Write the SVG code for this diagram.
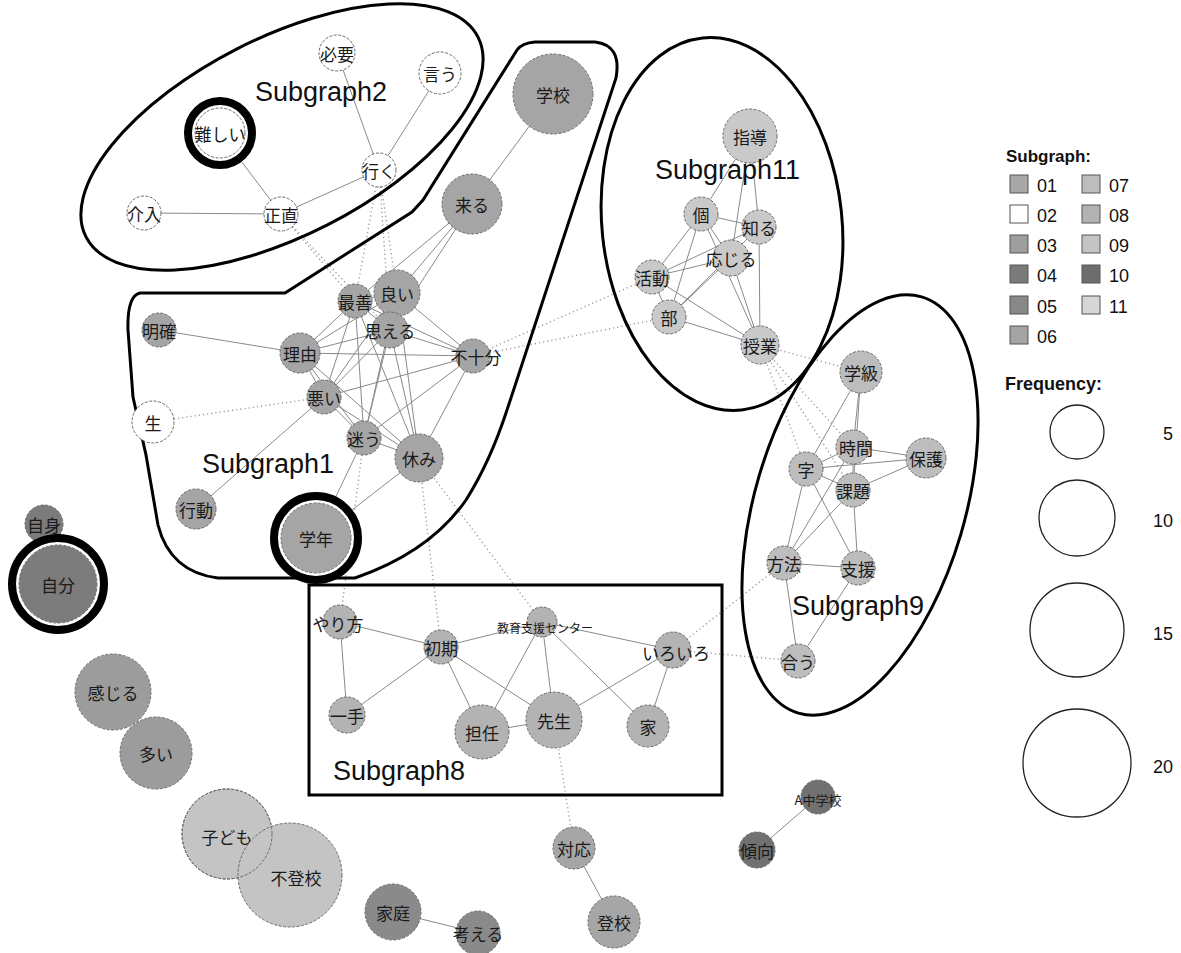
<svg xmlns="http://www.w3.org/2000/svg" width="1181" height="953" viewBox="0 0 1181 953">
<style>
.e{stroke:#8a8a8a;stroke-width:1;fill:none}
.d{stroke:#9a9a9a;stroke-width:1.4;stroke-dasharray:1.2 3;fill:none}
.n circle{stroke:#6a6a6a;stroke-width:1;stroke-dasharray:3 1.5}
.n text{font-family:"Noto Sans CJK JP","Noto Sans CJK SC",sans-serif;font-size:17px;text-anchor:middle;dominant-baseline:central;fill:#1a1a1a}
.w{fill:#ffffff}.s1{fill:#a5a5a5}.s11{fill:#c9c9c9}.s9{fill:#bdbdbd}.s8{fill:#b3b3b3}
.s4{fill:#7c7c7c}.s3{fill:#9c9c9c}.s7{fill:#c4c4c4}.s5{fill:#8a8a8a}.s6{fill:#a6a6a6}.s10{fill:#717171}
.n circle.ring{fill:#fff;stroke:#000;stroke-width:8;stroke-dasharray:none}
.hull{fill:none;stroke:#000;stroke-width:3}
.sg{font-family:"Liberation Sans",Arial,sans-serif;font-size:27px;fill:#111}
.lg{font-family:"Liberation Sans",Arial,sans-serif;font-size:18px;fill:#111}
.lgb{font-family:"Liberation Sans",Arial,sans-serif;font-size:17px;font-weight:bold;fill:#111}
.sq{stroke:#555;stroke-width:1}
.fc{fill:none;stroke:#222;stroke-width:1.3}
</style>
<rect width="1181" height="953" fill="#fff"/>
<g id="connectors">
<line class="e" x1="337" y1="53" x2="379" y2="170"/>
<line class="e" x1="440" y1="73" x2="379" y2="170"/>
<line class="e" x1="379" y1="170" x2="281" y2="214"/>
<line class="e" x1="220" y1="133" x2="281" y2="214"/>
<line class="e" x1="144" y1="213" x2="281" y2="214"/>
<line class="d" x1="281" y1="214" x2="355" y2="301"/>
<line class="d" x1="281" y1="214" x2="390" y2="330"/>
<line class="d" x1="379" y1="170" x2="355" y2="301"/>
<line class="d" x1="379" y1="170" x2="397" y2="293"/>
<line class="d" x1="379" y1="170" x2="390" y2="330"/>
<line class="e" x1="553" y1="94" x2="472" y2="204"/>
<line class="e" x1="472" y1="204" x2="397" y2="293"/>
<line class="e" x1="472" y1="204" x2="355" y2="301"/>
<line class="e" x1="472" y1="204" x2="390" y2="330"/>
<line class="e" x1="159" y1="330" x2="300" y2="353"/>
<line class="e" x1="300" y1="353" x2="473" y2="356"/>
<line class="e" x1="300" y1="353" x2="355" y2="301"/>
<line class="e" x1="300" y1="353" x2="390" y2="330"/>
<line class="e" x1="300" y1="353" x2="397" y2="293"/>
<line class="e" x1="300" y1="353" x2="324" y2="397"/>
<line class="e" x1="300" y1="353" x2="364" y2="438"/>
<line class="e" x1="300" y1="353" x2="419" y2="458"/>
<line class="e" x1="355" y1="301" x2="324" y2="397"/>
<line class="e" x1="355" y1="301" x2="364" y2="438"/>
<line class="e" x1="355" y1="301" x2="419" y2="458"/>
<line class="e" x1="355" y1="301" x2="473" y2="356"/>
<line class="e" x1="355" y1="301" x2="390" y2="330"/>
<line class="e" x1="355" y1="301" x2="397" y2="293"/>
<line class="e" x1="397" y1="293" x2="473" y2="356"/>
<line class="e" x1="397" y1="293" x2="324" y2="397"/>
<line class="e" x1="397" y1="293" x2="419" y2="458"/>
<line class="e" x1="397" y1="293" x2="364" y2="438"/>
<line class="e" x1="390" y1="330" x2="473" y2="356"/>
<line class="e" x1="390" y1="330" x2="324" y2="397"/>
<line class="e" x1="390" y1="330" x2="364" y2="438"/>
<line class="e" x1="390" y1="330" x2="419" y2="458"/>
<line class="e" x1="324" y1="397" x2="473" y2="356"/>
<line class="e" x1="324" y1="397" x2="364" y2="438"/>
<line class="e" x1="324" y1="397" x2="419" y2="458"/>
<line class="e" x1="324" y1="397" x2="196" y2="509"/>
<line class="e" x1="364" y1="438" x2="473" y2="356"/>
<line class="e" x1="364" y1="438" x2="419" y2="458"/>
<line class="e" x1="364" y1="438" x2="316" y2="538"/>
<line class="e" x1="419" y1="458" x2="473" y2="356"/>
<line class="e" x1="419" y1="458" x2="316" y2="538"/>
<line class="d" x1="153" y1="422" x2="324" y2="397"/>
<line class="d" x1="473" y1="356" x2="652" y2="277"/>
<line class="d" x1="473" y1="356" x2="669" y2="317"/>
<line class="d" x1="364" y1="438" x2="340" y2="622"/>
<line class="d" x1="419" y1="458" x2="441" y2="647"/>
<line class="d" x1="419" y1="458" x2="542" y2="622"/>
<line class="e" x1="750" y1="136" x2="701" y2="214"/>
<line class="e" x1="750" y1="136" x2="759" y2="227"/>
<line class="e" x1="750" y1="136" x2="731" y2="258"/>
<line class="e" x1="701" y1="214" x2="759" y2="227"/>
<line class="e" x1="701" y1="214" x2="652" y2="277"/>
<line class="e" x1="701" y1="214" x2="669" y2="317"/>
<line class="e" x1="701" y1="214" x2="731" y2="258"/>
<line class="e" x1="701" y1="214" x2="760" y2="345"/>
<line class="e" x1="759" y1="227" x2="652" y2="277"/>
<line class="e" x1="759" y1="227" x2="760" y2="345"/>
<line class="e" x1="759" y1="227" x2="669" y2="317"/>
<line class="e" x1="731" y1="258" x2="652" y2="277"/>
<line class="e" x1="731" y1="258" x2="669" y2="317"/>
<line class="e" x1="731" y1="258" x2="760" y2="345"/>
<line class="e" x1="652" y1="277" x2="669" y2="317"/>
<line class="e" x1="652" y1="277" x2="760" y2="345"/>
<line class="e" x1="669" y1="317" x2="760" y2="345"/>
<line class="d" x1="760" y1="345" x2="861" y2="372"/>
<line class="d" x1="760" y1="345" x2="806" y2="469"/>
<line class="d" x1="760" y1="345" x2="853" y2="447"/>
<line class="d" x1="760" y1="345" x2="853" y2="490"/>
<line class="e" x1="861" y1="372" x2="853" y2="447"/>
<line class="e" x1="861" y1="372" x2="806" y2="469"/>
<line class="e" x1="861" y1="372" x2="853" y2="490"/>
<line class="e" x1="853" y1="447" x2="926" y2="458"/>
<line class="e" x1="853" y1="447" x2="806" y2="469"/>
<line class="e" x1="853" y1="447" x2="853" y2="490"/>
<line class="e" x1="853" y1="447" x2="784" y2="563"/>
<line class="e" x1="926" y1="458" x2="806" y2="469"/>
<line class="e" x1="926" y1="458" x2="853" y2="490"/>
<line class="e" x1="806" y1="469" x2="853" y2="490"/>
<line class="e" x1="806" y1="469" x2="784" y2="563"/>
<line class="e" x1="806" y1="469" x2="858" y2="568"/>
<line class="e" x1="853" y1="490" x2="858" y2="568"/>
<line class="e" x1="853" y1="490" x2="784" y2="563"/>
<line class="e" x1="784" y1="563" x2="858" y2="568"/>
<line class="e" x1="784" y1="563" x2="798" y2="661"/>
<line class="e" x1="858" y1="568" x2="798" y2="661"/>
<line class="e" x1="340" y1="622" x2="441" y2="647"/>
<line class="e" x1="340" y1="622" x2="347" y2="715"/>
<line class="e" x1="441" y1="647" x2="347" y2="715"/>
<line class="e" x1="441" y1="647" x2="482" y2="732"/>
<line class="e" x1="441" y1="647" x2="554" y2="720"/>
<line class="e" x1="441" y1="647" x2="542" y2="622"/>
<line class="e" x1="542" y1="622" x2="482" y2="732"/>
<line class="e" x1="542" y1="622" x2="554" y2="720"/>
<line class="e" x1="542" y1="622" x2="648" y2="726"/>
<line class="e" x1="542" y1="622" x2="673" y2="650"/>
<line class="e" x1="482" y1="732" x2="554" y2="720"/>
<line class="e" x1="554" y1="720" x2="673" y2="650"/>
<line class="e" x1="673" y1="650" x2="648" y2="726"/>
<line class="d" x1="554" y1="720" x2="574" y2="848"/>
<line class="d" x1="673" y1="650" x2="784" y2="563"/>
<line class="d" x1="673" y1="650" x2="798" y2="661"/>
<line class="e" x1="574" y1="848" x2="614" y2="922"/>
<line class="e" x1="393" y1="912" x2="478" y2="933"/>
<line class="e" x1="818" y1="797" x2="757" y2="850"/>
</g>
<g id="hulls">
<ellipse id="hull-sg2" class="hull" cx="282" cy="137" rx="220" ry="99" transform="rotate(-27 282 137)"/>
<path id="hull-sg1" class="hull" d="M140,293 L285,293 L412,212 L423,200 L517,50 Q522,43 535,42 L595,42 Q622,45 616,78 L507,410 Q490,462 466,500 Q430,552 355,578 L218,578 Q170,572 158,525 L146,455 L133,397 L128,330 Q127,296 140,293 Z"/>
<ellipse id="hull-sg11" class="hull" cx="722" cy="224" rx="120" ry="187" transform="rotate(-6 722 224)"/>
<ellipse id="hull-sg9" class="hull" cx="860" cy="505" rx="105" ry="217" transform="rotate(16.5 860 505)"/>
<rect id="hull-sg8" class="hull" x="309" y="585" width="413" height="210"/>
</g>
<g id="nodes">
<g id="n-hitsuyou" class="n"><circle class="w" cx="337" cy="53" r="18"/><text x="337" y="53">必要</text></g>
<g id="n-iu" class="n"><circle class="w" cx="440" cy="73" r="21"/><text x="440" y="73">言う</text></g>
<g id="n-muzukashii" class="n"><circle class="ring" cx="220" cy="133" r="32"/><circle class="w" cx="220" cy="133" r="25"/><text x="220" y="133">難しい</text></g>
<g id="n-iku" class="n"><circle class="w" cx="379" cy="170" r="17"/><text x="379" y="170">行く</text></g>
<g id="n-kainyu" class="n"><circle class="w" cx="144" cy="213" r="17"/><text x="144" y="213">介入</text></g>
<g id="n-shoujiki" class="n"><circle class="w" cx="281" cy="214" r="17"/><text x="281" y="214">正直</text></g>

<g id="n-gakkou" class="n"><circle class="s1" cx="553" cy="94" r="40"/><text x="553" y="94">学校</text></g>
<g id="n-kuru" class="n"><circle class="s1" cx="472" cy="204" r="30"/><text x="472" y="204">来る</text></g>
<g id="n-saizen" class="n"><circle class="s1" cx="355" cy="301" r="17"/><text x="355" y="301">最善</text></g>
<g id="n-yoi" class="n"><circle class="s1" cx="397" cy="293" r="23"/><text x="397" y="293">良い</text></g>
<g id="n-omoeru" class="n"><circle class="s1" cx="390" cy="330" r="18"/><text x="390" y="330">思える</text></g>
<g id="n-meikaku" class="n"><circle class="s1" cx="159" cy="330" r="17"/><text x="159" y="330">明確</text></g>
<g id="n-riyuu" class="n"><circle class="s1" cx="300" cy="353" r="20"/><text x="300" y="353">理由</text></g>
<g id="n-fujuubun" class="n"><circle class="s1" cx="473" cy="356" r="17"/><text x="476" y="356">不十分</text></g>
<g id="n-warui" class="n"><circle class="s1" cx="324" cy="397" r="17"/><text x="324" y="397">悪い</text></g>
<g id="n-sei" class="n"><circle class="w" cx="153" cy="422" r="21"/><text x="153" y="422">生</text></g>
<g id="n-mayou" class="n"><circle class="s1" cx="364" cy="438" r="17"/><text x="364" y="438">迷う</text></g>
<g id="n-yasumi" class="n"><circle class="s1" cx="419" cy="458" r="24"/><text x="419" y="458">休み</text></g>
<g id="n-koudou" class="n"><circle class="s1" cx="196" cy="509" r="20"/><text x="196" y="509">行動</text></g>
<g id="n-gakunen" class="n"><circle class="ring" cx="316" cy="538" r="42"/><circle class="s1" cx="316" cy="538" r="35"/><text x="316" y="538">学年</text></g>

<g id="n-shidou" class="n"><circle class="s11" cx="750" cy="136" r="27"/><text x="750" y="136">指導</text></g>
<g id="n-ko" class="n"><circle class="s11" cx="701" cy="214" r="17"/><text x="701" y="214">個</text></g>
<g id="n-shiru" class="n"><circle class="s11" cx="759" cy="227" r="17"/><text x="759" y="227">知る</text></g>
<g id="n-oujiru" class="n"><circle class="s11" cx="731" cy="258" r="18"/><text x="731" y="258">応じる</text></g>
<g id="n-katsudou" class="n"><circle class="s11" cx="652" cy="277" r="17"/><text x="652" y="277">活動</text></g>
<g id="n-bu" class="n"><circle class="s11" cx="669" cy="317" r="17"/><text x="669" y="317">部</text></g>
<g id="n-jugyou" class="n"><circle class="s11" cx="760" cy="345" r="19"/><text x="760" y="345">授業</text></g>

<g id="n-gakkyuu" class="n"><circle class="s9" cx="861" cy="372" r="21"/><text x="861" y="372">学級</text></g>
<g id="n-jikan" class="n"><circle class="s9" cx="853" cy="447" r="17"/><text x="856" y="447">時間</text></g>
<g id="n-hogo" class="n"><circle class="s9" cx="926" cy="458" r="20"/><text x="926" y="458">保護</text></g>
<g id="n-ji" class="n"><circle class="s9" cx="806" cy="469" r="17"/><text x="806" y="469">字</text></g>
<g id="n-kadai" class="n"><circle class="s9" cx="853" cy="490" r="17"/><text x="853" y="490">課題</text></g>
<g id="n-houhou" class="n"><circle class="s9" cx="784" cy="563" r="17"/><text x="784" y="563">方法</text></g>
<g id="n-shien" class="n"><circle class="s9" cx="858" cy="568" r="17"/><text x="858" y="568">支援</text></g>
<g id="n-au" class="n"><circle class="s9" cx="798" cy="661" r="17"/><text x="798" y="661">合う</text></g>

<g id="n-yarikata" class="n"><circle class="s8" cx="340" cy="622" r="17"/><text x="338" y="623">やり方</text></g>
<g id="n-shoki" class="n"><circle class="s8" cx="441" cy="647" r="17"/><text x="441" y="647">初期</text></g>
<g id="n-center" class="n"><circle class="s8" cx="542" cy="622" r="15"/><text x="545" y="627" style="font-size:12px">教育支援センター</text></g>
<g id="n-iroiro" class="n"><circle class="s8" cx="673" cy="650" r="18"/><text x="676" y="652">いろいろ</text></g>
<g id="n-itte" class="n"><circle class="s8" cx="347" cy="715" r="18"/><text x="347" y="715">一手</text></g>
<g id="n-tannin" class="n"><circle class="s8" cx="482" cy="732" r="27"/><text x="482" y="732">担任</text></g>
<g id="n-sensei" class="n"><circle class="s8" cx="554" cy="720" r="28"/><text x="554" y="720">先生</text></g>
<g id="n-ie" class="n"><circle class="s8" cx="648" cy="726" r="21"/><text x="648" y="726">家</text></g>

<g id="n-jishin" class="n"><circle class="s4" cx="44" cy="524" r="19"/><text x="44" y="524">自身</text></g>
<g id="n-jibun" class="n"><circle class="ring" cx="58" cy="584" r="46"/><circle class="s4" cx="58" cy="584" r="39"/><text x="58" y="584">自分</text></g>
<g id="n-kanjiru" class="n"><circle class="s3" cx="113" cy="692" r="38"/><text x="113" y="692">感じる</text></g>
<g id="n-ooi" class="n"><circle class="s3" cx="156" cy="753" r="36"/><text x="156" y="753">多い</text></g>
<g id="n-kodomo" class="n"><circle class="s7" cx="227" cy="834" r="45"/><text x="227" y="836">子ども</text></g>
<g id="n-futoukou" class="n"><circle class="s7" cx="290" cy="875" r="52"/><circle cx="227" cy="834" r="45" fill="none"/><text x="296" y="877">不登校</text></g>
<g id="n-katei" class="n"><circle class="s5" cx="393" cy="912" r="28"/><text x="393" y="912">家庭</text></g>
<g id="n-kangaeru" class="n"><circle class="s5" cx="478" cy="933" r="22"/><text x="478" y="933">考える</text></g>
<g id="n-taiou" class="n"><circle class="s6" cx="574" cy="848" r="21"/><text x="574" y="848">対応</text></g>
<g id="n-toukou" class="n"><circle class="s6" cx="614" cy="922" r="26"/><text x="614" y="922">登校</text></g>
<g id="n-achuu" class="n"><circle class="s10" cx="818" cy="797" r="17"/><text x="818" y="799" style="font-size:13px">A中学校</text></g>
<g id="n-keikou" class="n"><circle class="s10" cx="757" cy="850" r="18"/><text x="757" y="850">傾向</text></g>
</g>
<g id="subgraph-labels">
<text class="sg" x="255" y="101">Subgraph2</text>
<text class="sg" x="202" y="473">Subgraph1</text>
<text class="sg" x="655" y="179">Subgraph11</text>
<text class="sg" x="792" y="615">Subgraph9</text>
<text class="sg" x="333" y="780">Subgraph8</text>
</g>
<g id="legend">
<text class="lgb" x="1006" y="162">Subgraph:</text>
<rect class="sq" x="1010" y="175" width="18" height="18" fill="#a8a8a8"/><text class="lg" x="1037" y="192">01</text>
<rect class="sq" x="1010" y="205" width="18" height="18" fill="#ffffff"/><text class="lg" x="1037" y="222">02</text>
<rect class="sq" x="1010" y="235" width="18" height="18" fill="#9e9e9e"/><text class="lg" x="1037" y="252">03</text>
<rect class="sq" x="1010" y="265" width="18" height="18" fill="#7a7a7a"/><text class="lg" x="1037" y="282">04</text>
<rect class="sq" x="1010" y="296" width="18" height="18" fill="#888888"/><text class="lg" x="1037" y="313">05</text>
<rect class="sq" x="1010" y="326" width="18" height="18" fill="#a4a4a4"/><text class="lg" x="1037" y="343">06</text>
<rect class="sq" x="1082" y="175" width="18" height="18" fill="#bdbdbd"/><text class="lg" x="1109" y="192">07</text>
<rect class="sq" x="1082" y="205" width="18" height="18" fill="#b3b3b3"/><text class="lg" x="1109" y="222">08</text>
<rect class="sq" x="1082" y="235" width="18" height="18" fill="#c4c4c4"/><text class="lg" x="1109" y="252">09</text>
<rect class="sq" x="1082" y="265" width="18" height="18" fill="#6e6e6e"/><text class="lg" x="1109" y="282">10</text>
<rect class="sq" x="1082" y="296" width="18" height="18" fill="#d6d6d6"/><text class="lg" x="1109" y="313">11</text>
<text class="lgb" x="1005" y="390" style="font-size:18px">Frequency:</text>
<circle class="fc" cx="1077" cy="432" r="27"/><text class="lg" x="1173" y="440" text-anchor="end">5</text>
<circle class="fc" cx="1077" cy="518" r="38"/><text class="lg" x="1173" y="527" text-anchor="end">10</text>
<circle class="fc" cx="1077" cy="630" r="47"/><text class="lg" x="1173" y="640" text-anchor="end">15</text>
<circle class="fc" cx="1077" cy="763" r="54"/><text class="lg" x="1173" y="773" text-anchor="end">20</text>
</g>
</svg>
